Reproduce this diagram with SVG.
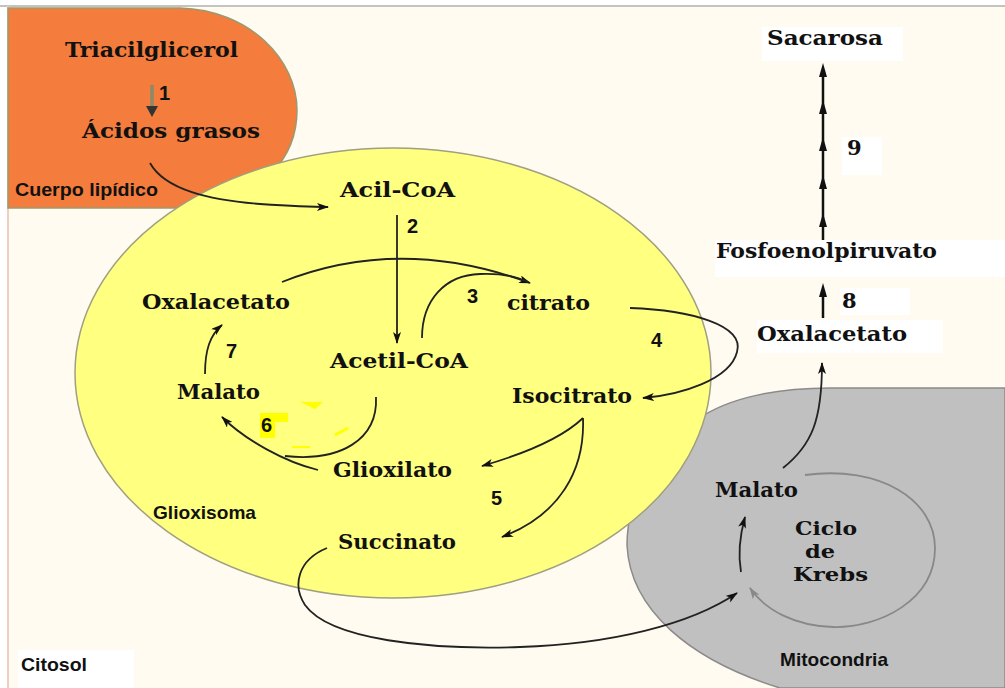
<svg xmlns="http://www.w3.org/2000/svg" width="1005" height="688" viewBox="0 0 1005 688">
<style>
.t{font-family:"DejaVu Serif","Liberation Serif",serif;font-weight:bold;font-size:21px;fill:#111}
.k{font-family:"DejaVu Serif","Liberation Serif",serif;font-weight:bold;font-size:18px;fill:#111}
.s{font-family:"Liberation Sans","Arial",sans-serif;font-weight:bold;font-size:19px;fill:#111}
.n{font-family:"Liberation Sans","Arial",sans-serif;font-weight:bold;font-size:20px;fill:#111}
.c{fill:none;stroke:#222;stroke-width:1.8}
.g{fill:none;stroke:#888;stroke-width:1.8}
.box{fill:#ffffff}
</style>
<defs>
<marker id="ah" viewBox="0 0 12 8" refX="11" refY="4" markerWidth="12" markerHeight="8" markerUnits="userSpaceOnUse" orient="auto">
<path d="M0,0 L12,4 L0,8 L3,4 Z" fill="#111"/>
</marker>
<marker id="ahg" viewBox="0 0 12 8" refX="11" refY="4" markerWidth="12" markerHeight="8" markerUnits="userSpaceOnUse" orient="auto">
<path d="M0,0 L12,4 L0,8 L3,4 Z" fill="#888"/>
</marker>
</defs>
<rect width="1005" height="688" fill="#ffffff"/>
<rect x="8" y="6" width="997" height="682" fill="#fffbf0"/>
<line x1="0" y1="6" x2="1005" y2="6" stroke="#c4c4bc" stroke-width="2"/>
<line x1="8" y1="6" x2="8" y2="688" stroke="#ecd0c4" stroke-width="2"/>

<g id="cuerpo-lipidico">
<path d="M8,8 H180 C250,10 297,60 297,110 C297,160 262,195 200,208 H8 Z" fill="#f47c3c" stroke="#9a9a72" stroke-width="1.5"/>
</g>
<g id="mitocondria">
<path d="M1005,388 H830 C770,388 720,400 690,425 C650,460 627,500 627,545 C630,610 690,660 780,688 H1005 Z" fill="#c0c0c0" stroke="#8a8a8a" stroke-width="1.5"/>
</g>
<g id="glioxisoma">
<ellipse cx="393" cy="373" rx="318" ry="225" fill="#ffff80" stroke="#a0a080" stroke-width="1.5"/>
<path d="M260,413 H288 V422 H275 V438 H260 Z" fill="#ffff00"/>
<path d="M300,402 H323 L315,409 Z" fill="#ffff00"/>
<path d="M335,435 L348,428" stroke="#ffff00" stroke-width="3"/>
<path d="M292,447 H310" stroke="#ffff00" stroke-width="2"/>
</g>

<g id="label-boxes">
<rect class="box" x="762" y="27" width="141" height="34"/>
<rect class="box" x="842" y="137" width="40" height="38"/>
<rect class="box" x="715" y="240" width="290" height="37"/>
<rect class="box" x="840" y="288" width="70" height="27"/>
<rect class="box" x="757" y="320" width="186" height="33"/>
<rect class="box" x="18" y="650" width="116" height="38"/>
</g>

<g id="connectors">
<line x1="152" y1="85" x2="152" y2="108" stroke="#8a8a6a" stroke-width="3.5"/>
<path d="M146,106 L158,106 L152,117 Z" fill="#333"/>
<path class="c" d="M150,163 C165,190 210,200 260,204 C290,206 310,207 328,207" marker-end="url(#ah)"/>
<line class="c" x1="397" y1="215" x2="397" y2="343" marker-end="url(#ah)"/>
<path class="c" d="M282,282 Q400,235 530,283" marker-end="url(#ah)"/>
<path class="c" d="M422,338 C422,300 445,275 480,274 C505,273 520,278 528,282"/>
<path class="c" d="M630,308 C690,310 745,325 737,352 C730,380 680,395 643,398" marker-end="url(#ah)"/>
<path class="c" d="M583,418 C560,440 520,455 482,466" marker-end="url(#ah)"/>
<path class="c" d="M583,418 C585,470 560,515 502,537" marker-end="url(#ah)"/>
<path class="c" d="M205,374 C205,350 210,335 222,325" marker-end="url(#ah)"/>
<path class="c" d="M376,397 C378,440 340,462 285,456"/>
<path class="c" d="M318,470 C285,462 245,440 222,417" marker-end="url(#ah)"/>
<path class="c" d="M327,548 C298,560 292,585 305,605 C330,640 430,650 520,647 C610,644 690,625 737,593" marker-end="url(#ah)"/>
<path class="c" d="M741,572 C738,555 740,535 745,517" marker-end="url(#ah)"/>
<path class="g" d="M805,475 C880,465 935,500 935,548 C935,600 880,628 833,627 C795,626 765,610 750,588" marker-end="url(#ahg)"/>
<path class="c" d="M783,468 C812,445 822,420 822,363" marker-end="url(#ah)"/>
<line x1="823" y1="318" x2="823" y2="290" stroke="#111" stroke-width="2.5"/>
<path d="M823,283 L827,297 L819,297 Z" fill="#111"/>
<line x1="823" y1="240" x2="823" y2="70" stroke="#111" stroke-width="2.5"/>
<path d="M823,63 L827,77 L819,77 Z" fill="#111"/>
<path d="M823,100 L827,114 L819,114 Z" fill="#111"/>
<path d="M823,137 L827,151 L819,151 Z" fill="#111"/>
<path d="M823,175 L827,189 L819,189 Z" fill="#111"/>
<path d="M823,213 L827,227 L819,227 Z" fill="#111"/>
</g>

<g id="n-triacilglicerol"><text class="t" x="65" y="57" textLength="173" lengthAdjust="spacingAndGlyphs">Triacilglicerol</text></g>
<g id="n-acidos"><text class="t" x="82" y="138" textLength="178" lengthAdjust="spacingAndGlyphs">Ácidos grasos</text></g>
<g id="l-cuerpo"><text class="s" x="15" y="196" textLength="143" lengthAdjust="spacingAndGlyphs">Cuerpo lipídico</text></g>
<g id="n-acilcoa"><text class="t" x="340" y="197" textLength="115" lengthAdjust="spacingAndGlyphs">Acil-CoA</text></g>
<g id="n-oxalacetato1"><text class="t" x="142" y="309" textLength="148" lengthAdjust="spacingAndGlyphs">Oxalacetato</text></g>
<g id="n-citrato"><text class="t" x="507" y="310" textLength="83" lengthAdjust="spacingAndGlyphs">citrato</text></g>
<g id="n-acetilcoa"><text class="t" x="330" y="368" textLength="138" lengthAdjust="spacingAndGlyphs">Acetil-CoA</text></g>
<g id="n-malato1"><text class="t" x="177" y="399" textLength="83" lengthAdjust="spacingAndGlyphs">Malato</text></g>
<g id="n-isocitrato"><text class="t" x="512" y="403" textLength="120" lengthAdjust="spacingAndGlyphs">Isocitrato</text></g>
<g id="n-glioxilato"><text class="t" x="333" y="477" textLength="119" lengthAdjust="spacingAndGlyphs">Glioxilato</text></g>
<g id="l-glioxisoma"><text class="s" x="153" y="519" textLength="103" lengthAdjust="spacingAndGlyphs">Glioxisoma</text></g>
<g id="n-succinato"><text class="t" x="338" y="549" textLength="118" lengthAdjust="spacingAndGlyphs">Succinato</text></g>
<g id="l-citosol"><text class="s" x="21" y="671" textLength="66" lengthAdjust="spacingAndGlyphs">Citosol</text></g>
<g id="n-sacarosa"><text class="t" x="767" y="45" textLength="116" lengthAdjust="spacingAndGlyphs">Sacarosa</text></g>
<g id="n-pep"><text class="t" x="716" y="258" textLength="221" lengthAdjust="spacingAndGlyphs">Fosfoenolpiruvato</text></g>
<g id="n-oxalacetato2"><text class="t" x="757" y="341" textLength="150" lengthAdjust="spacingAndGlyphs">Oxalacetato</text></g>
<g id="n-malato2"><text class="t" x="715" y="497" textLength="83" lengthAdjust="spacingAndGlyphs">Malato</text></g>
<g id="n-krebs">
<text class="k" x="795" y="535" textLength="62" lengthAdjust="spacingAndGlyphs">Ciclo</text>
<text class="k" x="805" y="558" textLength="30" lengthAdjust="spacingAndGlyphs">de</text>
<text class="k" x="793" y="581" textLength="75" lengthAdjust="spacingAndGlyphs">Krebs</text>
</g>
<g id="l-mitocondria"><text class="s" x="780" y="666" textLength="108" lengthAdjust="spacingAndGlyphs">Mitocondria</text></g>

<g id="step-numbers">
<text class="n" x="159" y="100">1</text>
<text class="n" x="407" y="233">2</text>
<text class="n" x="467" y="303">3</text>
<text class="n" x="651" y="347">4</text>
<text class="n" x="491" y="505">5</text>
<text class="n" x="261" y="432">6</text>
<text class="n" x="226" y="358">7</text>
<text class="t" x="842" y="308">8</text>
<text class="t" x="847" y="155">9</text>
</g>
</svg>
